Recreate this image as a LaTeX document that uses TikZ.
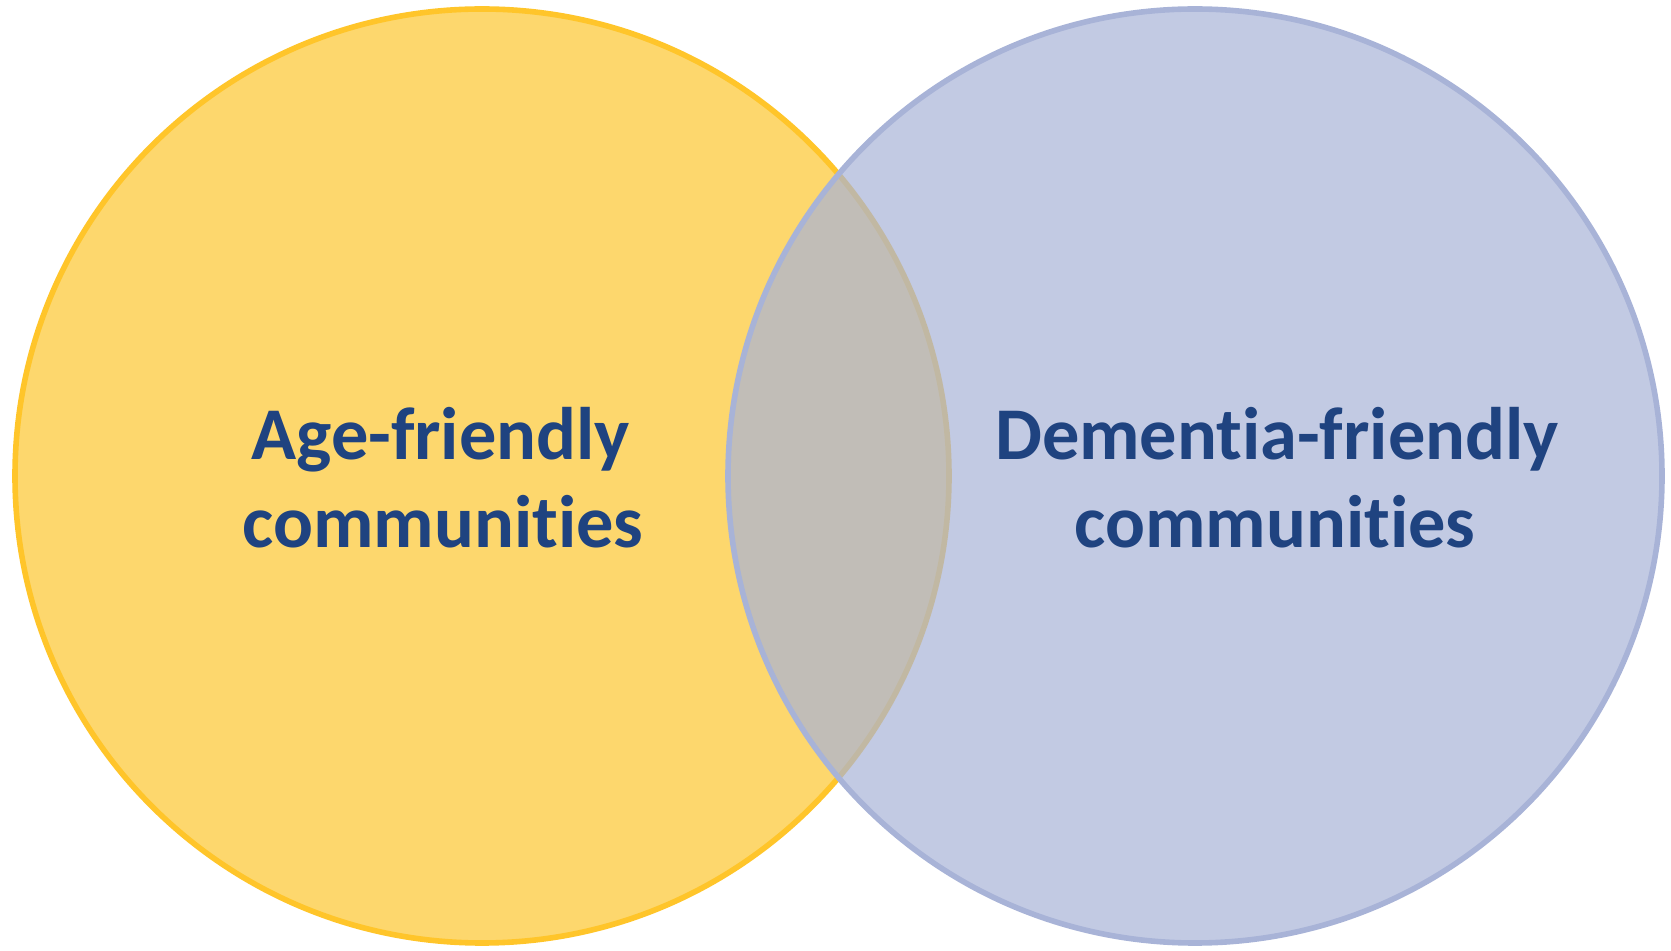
\documentclass[tikz,border=0pt]{standalone}
\usepackage{fontspec}
\setmainfont[Ligatures=NoCommon]{Carlito}

\definecolor{ageyellow}{RGB}{253,215,109}
\definecolor{agerim}{RGB}{255,197,42}
\definecolor{demblue}{RGB}{168,179,215}
\definecolor{labelblue}{RGB}{31,67,128}

\tikzset{
  label text/.style={anchor=base,text=labelblue,font=\bfseries\fontsize{37.2}{44}\selectfont,inner sep=0pt}
}

\begin{document}
\begin{tikzpicture}[x=0.5pt,y=-0.5pt]
      \useasboundingbox (0,0) rectangle (1671,951);

      % the two sets
      \draw[line width=2.8pt,agerim,fill=ageyellow] (482,476) circle[radius=233.5pt];
      \draw[line width=2.8pt,demblue,fill=demblue,fill opacity=0.7] (1195,476) circle[radius=233.5pt];

      \node[label text] (agetop) at (441,460) {Age-friendly};
      \node[label text] (agebot) at (443,548) {communities};
      \node[label text] (demtop) at (1277,460) {Dementia-friendly};
      \node[label text] (dembot) at (1275,548) {communities};
    \end{tikzpicture}
\end{document}
